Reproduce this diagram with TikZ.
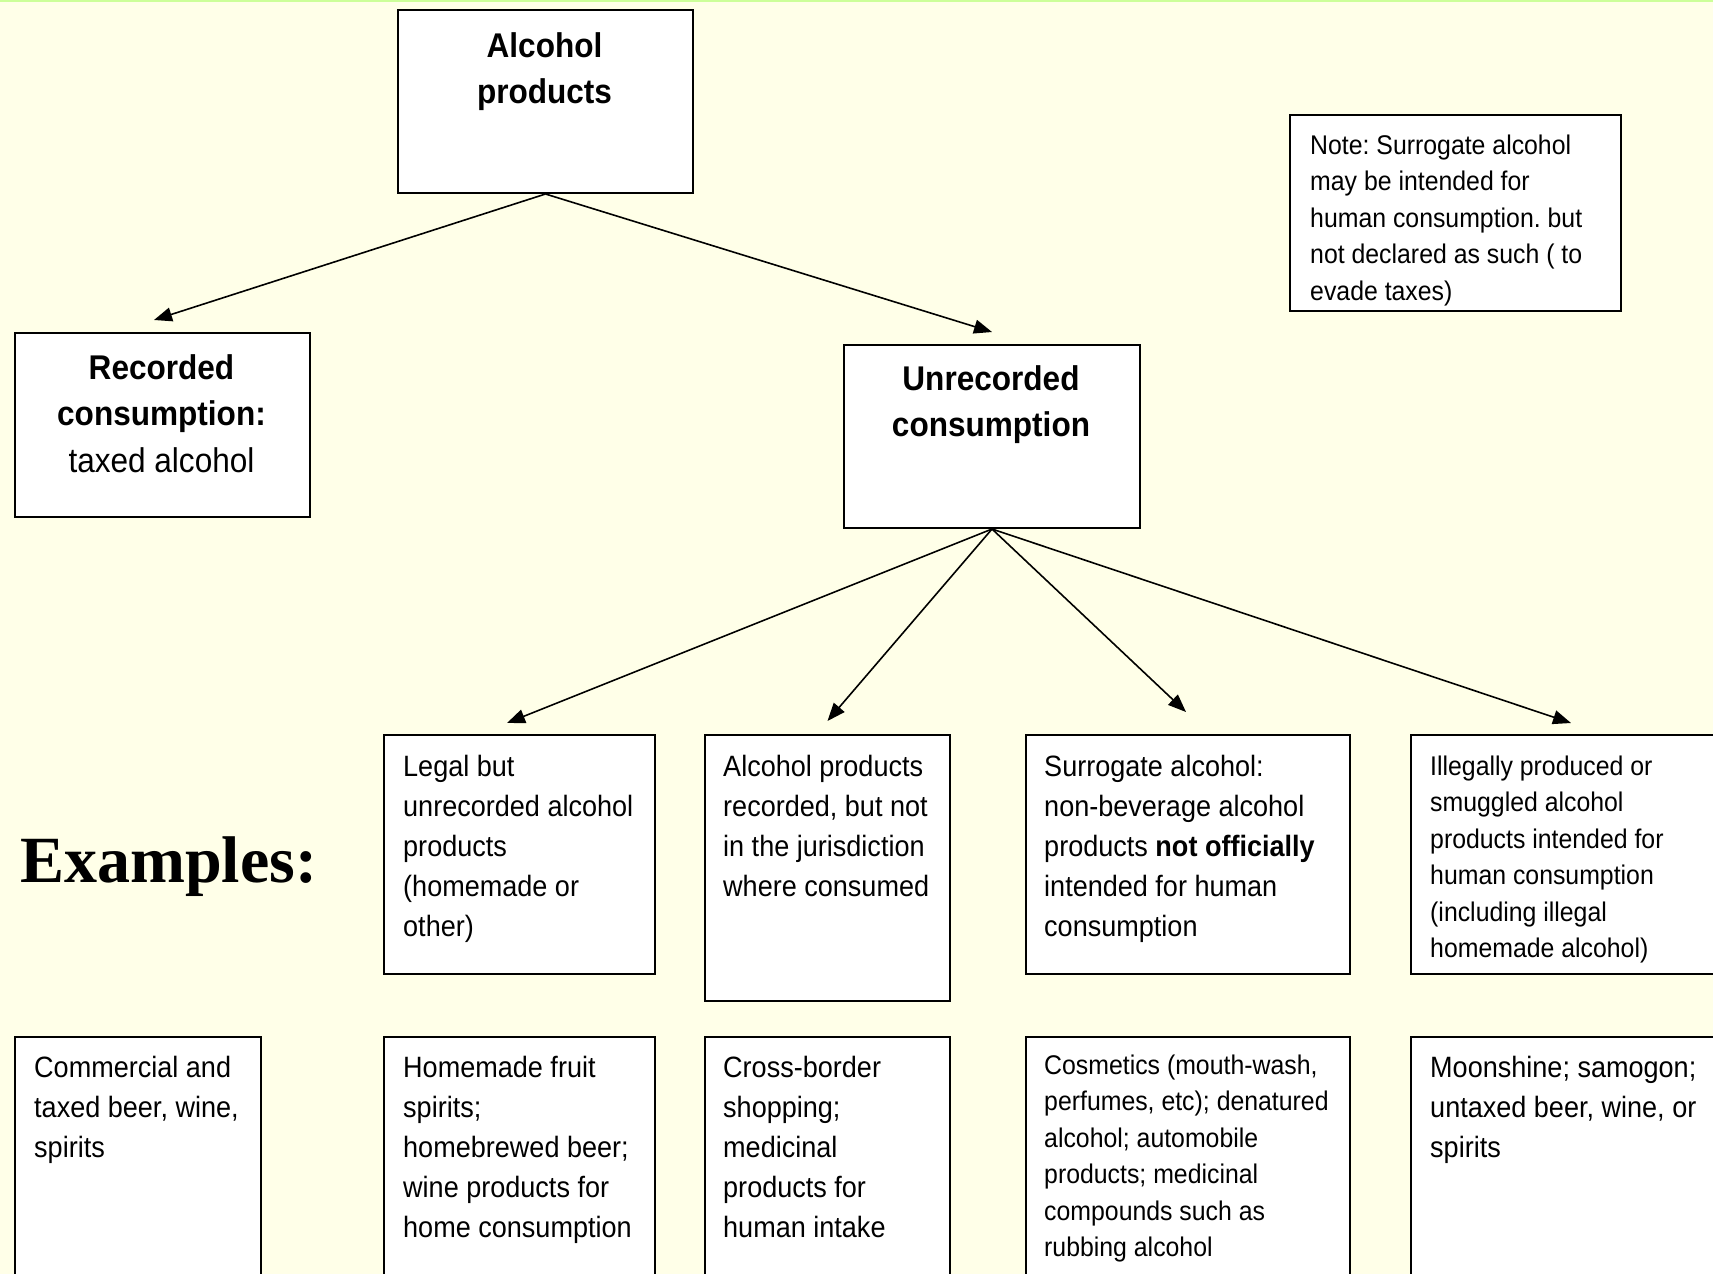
\documentclass[tikz,border=0pt]{standalone}
\usepackage{fontspec}
\setmainfont{Liberation Sans}[FakeStretch=0.92]
\newfontfamily\exfont{Liberation Serif}
\usetikzlibrary{arrows.meta,positioning,calc}
\definecolor{cbg}{HTML}{FFFFE8}
\definecolor{cedge}{HTML}{CCFF99}
\frenchspacing

\begin{document}
\begin{tikzpicture}[
    x=1pt, y=-1pt,
    box/.style={draw, fill=white, line width=2pt, anchor=north west, inner sep=0pt},
    txt/.style={anchor=base west, align=left, inner sep=0pt, font=\fontsize{29.4}{40}\selectfont},
    smalltxt/.style={txt, font=\fontsize{27}{36.5}\selectfont},
    head/.style={anchor=base, align=center, inner sep=0pt, font=\fontsize{34.3}{46.5}\selectfont},
    arr/.style={line width=1.6pt, -{Triangle[length=18pt,width=14pt]}},
]
\useasboundingbox (0,0) rectangle (1713,1274);
\clip (0,0) rectangle (1713,1274);
\fill[cbg] (0,0) rectangle (1713,1274);
\draw[cedge, line width=3pt] (0,0) -- (1713,0);

% top levels (text nodes sit on the baseline of their last line)
\node[box, minimum width=295pt, minimum height=183pt] (alc) at (397,9) {};
\node[head] (alc-t) at (544.5,103.5) {\textbf{Alcohol}\\\textbf{products}};
\node[box, minimum width=295pt, minimum height=184pt] (rec) at (14,332) {};
\node[head] (rec-t) at (161.5,472) {\textbf{Recorded}\\\textbf{consumption:}\\taxed alcohol};
\node[box, minimum width=296pt, minimum height=183pt] (unrec) at (843,344) {};
\node[head] (unrec-t) at (991,436.5) {\textbf{Unrecorded}\\\textbf{consumption}};
\node[box, minimum width=331pt, minimum height=196pt] (note) at (1289,114) {};
\node[smalltxt] (note-t) at (1310,300) {Note: Surrogate alcohol\\may be intended for\\human consumption. but\\not declared as such ( to\\evade taxes)};

% kinds of unrecorded
\node[box, minimum width=271pt, minimum height=239pt] (legal) at (383,734) {};
\node[txt] (legal-t) at (403,936) {Legal but\\unrecorded alcohol\\products\\(homemade or\\other)};
\node[box, minimum width=245pt, minimum height=266pt] (alcrec) at (704,734) {};
\node[txt] (alcrec-t) at (723,896) {Alcohol products\\recorded, but not\\in the jurisdiction\\where consumed};
\node[box, minimum width=324pt, minimum height=239pt] (surr) at (1025,734) {};
\node[txt] (surr-t) at (1044,936) {Surrogate alcohol:\\non-beverage alcohol\\products \textbf{not officially}\\intended for human\\consumption};
\node[box, minimum width=320pt, minimum height=239pt] (illeg) at (1410,734) {};
\node[smalltxt] (illeg-t) at (1430,957.5) {Illegally produced or\\smuggled alcohol\\products intended for\\human consumption\\(including illegal\\homemade alcohol)};

% examples
\node[anchor=base west, inner sep=0pt, font=\exfont\bfseries\fontsize{66}{72}\selectfont] (ex) at (20,882) {Examples:};
\node[box, minimum width=246pt, minimum height=260pt] (comm) at (14,1036) {};
\node[txt] (comm-t) at (34,1157) {Commercial and\\taxed beer, wine,\\spirits};
\node[box, minimum width=271pt, minimum height=260pt] (home) at (383,1036) {};
\node[txt] (home-t) at (403,1237) {Homemade fruit\\spirits;\\homebrewed beer;\\wine products for\\home consumption};
\node[box, minimum width=245pt, minimum height=260pt] (cross) at (704,1036) {};
\node[txt] (cross-t) at (723,1237) {Cross-border\\shopping;\\medicinal\\products for\\human intake};
\node[box, minimum width=324pt, minimum height=260pt] (cosm) at (1025,1036) {};
\node[smalltxt] (cosm-t) at (1044,1256.5) {Cosmetics (mouth-wash,\\perfumes, etc); denatured\\alcohol; automobile\\products; medicinal\\compounds such as\\rubbing alcohol};
\node[box, minimum width=320pt, minimum height=260pt] (moon) at (1410,1036) {};
\node[txt] (moon-t) at (1430,1157) {Moonshine; samogon;\\untaxed beer, wine, or\\spirits};

% connectors
\coordinate (rec-in) at ($(rec.north)+(-8.5,-12)$);
\coordinate (unrec-in) at ($(unrec.north)+(0,-12)$);
\coordinate (legal-in) at ($(legal.north)+(-12.5,-11)$);
\coordinate (alcrec-in) at ($(alcrec.north)+(0,-13)$);
\coordinate (surr-in) at ($(surr.north)+(-2,-22)$);
\coordinate (illeg-in) at ($(illeg.north)+(0,-11)$);
\draw[arr] (alc.south) -- (rec-in);
\draw[arr] (alc.south) -- (unrec-in);
\draw[arr] (unrec.south) -- (legal-in);
\draw[arr] (unrec.south) -- (alcrec-in);
\draw[arr] (unrec.south) -- (surr-in);
\draw[arr] (unrec.south) -- (illeg-in);
\end{tikzpicture}
\end{document}
